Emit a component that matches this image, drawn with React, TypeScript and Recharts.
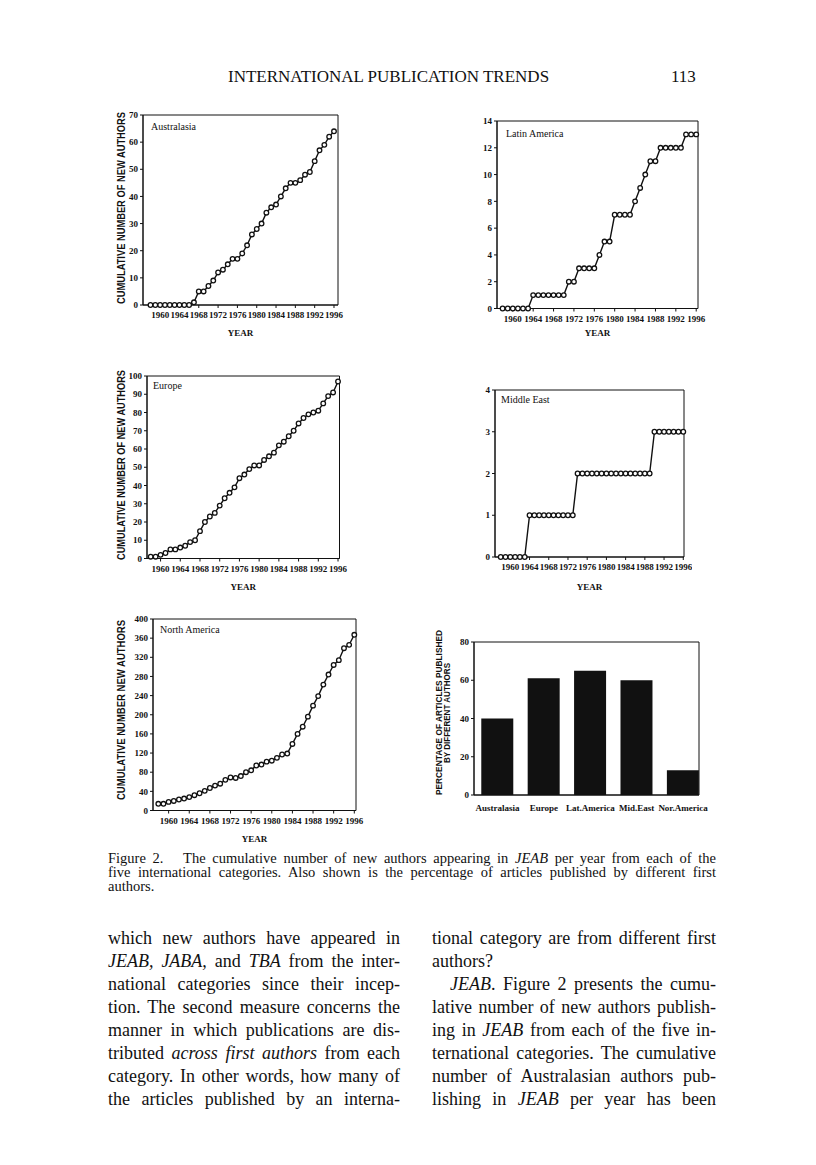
import React from 'react';
import { LineChart, Line, XAxis, YAxis, ReferenceArea, BarChart, Bar } from 'recharts';

// years shown on every cumulative panel
const years = [
  1958, 1959, 1960, 1961, 1962, 1963, 1964, 1965, 1966, 1967, 1968, 1969, 1970,
  1971, 1972, 1973, 1974, 1975, 1976, 1977, 1978, 1979, 1980, 1981, 1982, 1983,
  1984, 1985, 1986, 1987, 1988, 1989, 1990, 1991, 1992, 1993, 1994, 1995, 1996,
];
const yearTicks = [1960, 1964, 1968, 1972, 1976, 1980, 1984, 1988, 1992, 1996];

const australasia = [
  0, 0, 0, 0, 0, 0, 0, 0, 0, 1, 5, 5, 7, 9, 12, 13, 15, 17, 17, 19, 22, 26, 28,
  30, 34, 36, 37, 40, 43, 45, 45, 46, 48, 49, 53, 57, 59, 62, 64,
];
const latinAmerica = [
  0, 0, 0, 0, 0, 0, 1, 1, 1, 1, 1, 1, 1, 2, 2, 3, 3, 3, 3, 4, 5, 5, 7, 7, 7, 7,
  8, 9, 10, 11, 11, 12, 12, 12, 12, 12, 13, 13, 13,
];
const europe = [
  1, 1, 2, 3, 5, 5, 6, 7, 9, 10, 15, 20, 23, 25, 29, 33, 36, 39, 44, 46, 49, 51,
  51, 54, 56, 58, 62, 64, 67, 70, 74, 77, 79, 80, 81, 85, 89, 91, 97,
];
const middleEast = [
  0, 0, 0, 0, 0, 0, 1, 1, 1, 1, 1, 1, 1, 1, 1, 1, 2, 2, 2, 2, 2, 2, 2, 2, 2, 2,
  2, 2, 2, 2, 2, 2, 3, 3, 3, 3, 3, 3, 3,
];
const northAmerica = [
  14, 14, 18, 20, 23, 25, 28, 32, 36, 41, 47, 52, 56, 64, 69, 68, 72, 80, 84, 94,
  96, 102, 104, 110, 117, 119, 139, 160, 175, 196, 219, 239, 263, 284, 304, 314,
  339, 346, 367,
];

const ticksAus = [0, 10, 20, 30, 40, 50, 60, 70];
const ticksLat = [0, 2, 4, 6, 8, 10, 12, 14];
const ticksEur = [0, 10, 20, 30, 40, 50, 60, 70, 80, 90, 100];
const ticksMid = [0, 1, 2, 3, 4];
const ticksNor = [0, 40, 80, 120, 160, 200, 240, 280, 320, 360, 400];

const regions = ['Australasia', 'Europe', 'Lat.America', 'Mid.East', 'Nor.America'];
const pctDifferent = [40, 61, 65, 60, 13];
const ticksPct = [0, 20, 40, 60, 80];

const serif = '"Liberation Serif", "Times New Roman", serif';
const sans = '"Liberation Sans", Arial, sans-serif';
const ink = '#111';
const tickFont = { fontSize: 9, fontFamily: serif, fontWeight: 700, fill: ink };

const PAD_L = 45;
const PAD_T = 8;
const PAD_R = 8;
const PAD_B = 42;

type Box = { x0: number; x1: number; top: number; bottom: number };

interface YearProps {
  box: Box;
  values: number[];
  xDomain: [number, number];
  yTicks: number[];
  title: string;
  titleOffset: number;
  yearOffset: number;
}

function YearChart({ box, values, xDomain, yTicks, title, titleOffset, yearOffset }: YearProps) {
  const left = box.x0 - PAD_L;
  const top = box.top - PAD_T;
  const width = box.x1 - box.x0 + PAD_L + PAD_R;
  const height = box.bottom - box.top + PAD_T + PAD_B;
  const data = years.map((year, i) => ({ year, v: values[i] }));
  const yMax = yTicks[yTicks.length - 1];

  return (
    <div style={{ position: 'absolute', left, top }}>
      <LineChart width={width} height={height} data={data} margin={{ top: PAD_T, right: PAD_R, bottom: 0, left: 0 }}>
        <XAxis
          dataKey="year"
          type="number"
          domain={xDomain}
          ticks={yearTicks}
          interval={0}
          height={PAD_B}
          stroke={ink}
          tick={tickFont}
          tickSize={3}
          tickMargin={4}
          label={{
            value: 'YEAR',
            position: 'insideBottom',
            offset: yearOffset,
            fontSize: 9,
            fontFamily: serif,
            fontWeight: 700,
            fill: ink,
          }}
        />
        <YAxis
          type="number"
          domain={[0, yMax]}
          ticks={yTicks}
          interval={0}
          width={PAD_L}
          stroke={ink}
          tick={tickFont}
          tickSize={3}
          tickMargin={2}
        />
        <ReferenceArea
          y1={0}
          y2={yMax}
          fill="none"
          stroke={ink}
          strokeWidth={1}
          ifOverflow="visible"
          label={{
            value: title,
            position: 'insideTopLeft',
            offset: titleOffset,
            fontSize: 10,
            fontFamily: serif,
            fill: ink,
          }}
        />
        <Line
          type="linear"
          dataKey="v"
          stroke={ink}
          strokeWidth={1.4}
          dot={{ r: 2.3, fill: '#fff', stroke: ink, strokeWidth: 1.3 }}
          activeDot={false}
          isAnimationActive={false}
        />
      </LineChart>
    </div>
  );
}

function PercentChart() {
  const box = { x0: 474, x1: 699, top: 642, bottom: 795 };
  const padR = 24;
  const left = box.x0 - PAD_L;
  const top = box.top - PAD_T;
  const width = box.x1 - box.x0 + PAD_L + padR;
  const height = box.bottom - box.top + PAD_T + 30;
  const data = regions.map((region, i) => ({ i, region, pct: pctDifferent[i] }));

  return (
    <div style={{ position: 'absolute', left, top }}>
      <BarChart width={width} height={height} data={data} margin={{ top: PAD_T, right: padR, bottom: 0, left: 0 }}>
        <XAxis
          dataKey="i"
          type="number"
          domain={[-0.506, 4.343]}
          ticks={data.map((d) => d.i)}
          tickFormatter={(v: number) => regions[v]}
          interval={0}
          height={30}
          stroke={ink}
          tickLine={false}
          tick={tickFont}
          tickMargin={4}
        />
        <YAxis
          type="number"
          domain={[0, 80]}
          ticks={ticksPct}
          interval={0}
          width={PAD_L}
          stroke={ink}
          tick={tickFont}
          tickSize={3}
          tickMargin={2}
        />
        <ReferenceArea y1={0} y2={80} fill="none" stroke={ink} strokeWidth={1} ifOverflow="visible" />
        <Bar dataKey="pct" fill={ink} barSize={32} isAnimationActive={false} />
      </BarChart>
    </div>
  );
}

// rotated axis titles, drawn in page coordinates over the charts
const sideTitles = [
  { text: 'CUMULATIVE NUMBER OF NEW AUTHORS', x: 121, y: 208, len: 192, size: 10 },
  { text: 'CUMULATIVE NUMBER OF NEW AUTHORS', x: 121, y: 465, len: 190, size: 10 },
  { text: 'CUMULATIVE NUMBER NEW AUTHORS', x: 121, y: 710, len: 180, size: 10 },
  { text: 'PERCENTAGE OF ARTICLES PUBLISHED', x: 438.5, y: 712.5, len: 165, size: 8.5 },
  { text: 'BY DIFFERENT AUTHORS', x: 446.5, y: 713, len: 100, size: 8.5 },
];

function SideTitles() {
  return (
    <svg width={816} height={1165} style={{ position: 'absolute', left: 0, top: 0, pointerEvents: 'none' }}>
      {sideTitles.map((t, i) => (
        <text
          key={i}
          transform={`translate(${t.x},${t.y}) rotate(-90)`}
          textAnchor="middle"
          dominantBaseline="central"
          fontFamily={sans}
          fontWeight={700}
          fontSize={t.size}
          fill={ink}
          textLength={t.len}
          lengthAdjust="spacingAndGlyphs"
        >
          {t.text}
        </text>
      ))}
    </svg>
  );
}

function TextLine({
  x, w, y, size, lh, children, last,
}: { x: number; w: number; y: number; size: number; lh: number; children: React.ReactNode; last?: boolean }) {
  return (
    <div
      style={{
        position: 'absolute',
        left: x,
        width: w,
        top: y - lh / 2,
        height: lh,
        fontFamily: serif,
        fontSize: size,
        lineHeight: `${lh}px`,
        color: ink,
        textAlign: 'justify',
        textAlignLast: last ? 'left' : 'justify',
        whiteSpace: 'nowrap',
      }}
    >
      {children}
    </div>
  );
}

export default function App() {
  const colL = 108;
  const colR = 432;
  const colW = 292;
  const colWR = 284;
  const row = (i: number) => 938 + i * 23;
  const body = { size: 18, lh: 23 };
  const cap = { size: 14.5, lh: 14 };

  return (
    <div style={{ position: 'absolute', left: 0, top: 0, width: 816, height: 1165, background: '#fff', overflow: 'hidden' }}>
      {/* running head */}
      <div style={{ position: 'absolute', left: 228, top: 67, fontFamily: serif, fontSize: 17, lineHeight: '20px', color: ink, whiteSpace: 'nowrap' }}>
        INTERNATIONAL PUBLICATION TRENDS
      </div>
      <div style={{ position: 'absolute', left: 671, top: 67, fontFamily: serif, fontSize: 17, lineHeight: '20px', color: ink }}>
        113
      </div>

      <YearChart
        box={{ x0: 143, x1: 338, top: 115, bottom: 305 }}
        values={australasia}
        xDomain={[1956.45, 1996.83]}
        yTicks={ticksAus}
        title="Australasia"
        titleOffset={8}
        yearOffset={11}
      />
      <YearChart
        box={{ x0: 497, x1: 698, top: 120.5, bottom: 308 }}
        values={latinAmerica}
        xDomain={[1956.9, 1996.35]}
        yTicks={ticksLat}
        title="Latin America"
        titleOffset={9}
        yearOffset={15}
      />
      <YearChart
        box={{ x0: 147, x1: 339.5, top: 375.5, bottom: 558 }}
        values={europe}
        xDomain={[1957.25, 1996.3]}
        yTicks={ticksEur}
        title="Europe"
        titleOffset={6}
        yearOffset={11}
      />
      <YearChart
        box={{ x0: 495, x1: 684, top: 390, bottom: 557 }}
        values={middleEast}
        xDomain={[1956.81, 1996.15]}
        yTicks={ticksMid}
        title="Middle East"
        titleOffset={6}
        yearOffset={9}
      />
      <YearChart
        box={{ x0: 153, x1: 356, top: 618.5, bottom: 810 }}
        values={northAmerica}
        xDomain={[1956.97, 1996.33]}
        yTicks={ticksNor}
        title="North America"
        titleOffset={7}
        yearOffset={11}
      />
      <PercentChart />
      <SideTitles />

      {/* caption */}
      <TextLine x={108} w={608} y={858} {...cap}>
        Figure 2.&nbsp;&nbsp; The cumulative number of new authors appearing in <i>JEAB</i> per year from each of the
      </TextLine>
      <TextLine x={108} w={608} y={872} {...cap}>
        five international categories. Also shown is the percentage of articles published by different first
      </TextLine>
      <TextLine x={108} w={608} y={886} {...cap} last>
        authors.
      </TextLine>

      {/* body text, left column */}
      <TextLine x={colL} w={colW} y={row(0)} {...body}>which new authors have appeared in</TextLine>
      <TextLine x={colL} w={colW} y={row(1)} {...body}>
        <i>JEAB, JABA,</i> and <i>TBA</i> from the inter-
      </TextLine>
      <TextLine x={colL} w={colW} y={row(2)} {...body}>national categories since their incep-</TextLine>
      <TextLine x={colL} w={colW} y={row(3)} {...body}>tion. The second measure concerns the</TextLine>
      <TextLine x={colL} w={colW} y={row(4)} {...body}>manner in which publications are dis-</TextLine>
      <TextLine x={colL} w={colW} y={row(5)} {...body}>
        tributed <i>across first authors</i> from each
      </TextLine>
      <TextLine x={colL} w={colW} y={row(6)} {...body}>category. In other words, how many of</TextLine>
      <TextLine x={colL} w={colW} y={row(7)} {...body}>the articles published by an interna-</TextLine>

      {/* body text, right column */}
      <TextLine x={colR} w={colWR} y={row(0)} {...body}>tional category are from different first</TextLine>
      <TextLine x={colR} w={colWR} y={row(1)} {...body} last>authors?</TextLine>
      <TextLine x={colR + 18} w={colWR - 18} y={row(2)} {...body}>
        <i>JEAB</i>. Figure 2 presents the cumu-
      </TextLine>
      <TextLine x={colR} w={colWR} y={row(3)} {...body}>lative number of new authors publish-</TextLine>
      <TextLine x={colR} w={colWR} y={row(4)} {...body}>
        ing in <i>JEAB</i> from each of the five in-
      </TextLine>
      <TextLine x={colR} w={colWR} y={row(5)} {...body}>ternational categories. The cumulative</TextLine>
      <TextLine x={colR} w={colWR} y={row(6)} {...body}>number of Australasian authors pub-</TextLine>
      <TextLine x={colR} w={colWR} y={row(7)} {...body}>
        lishing in <i>JEAB</i> per year has been
      </TextLine>
    </div>
  );
}
